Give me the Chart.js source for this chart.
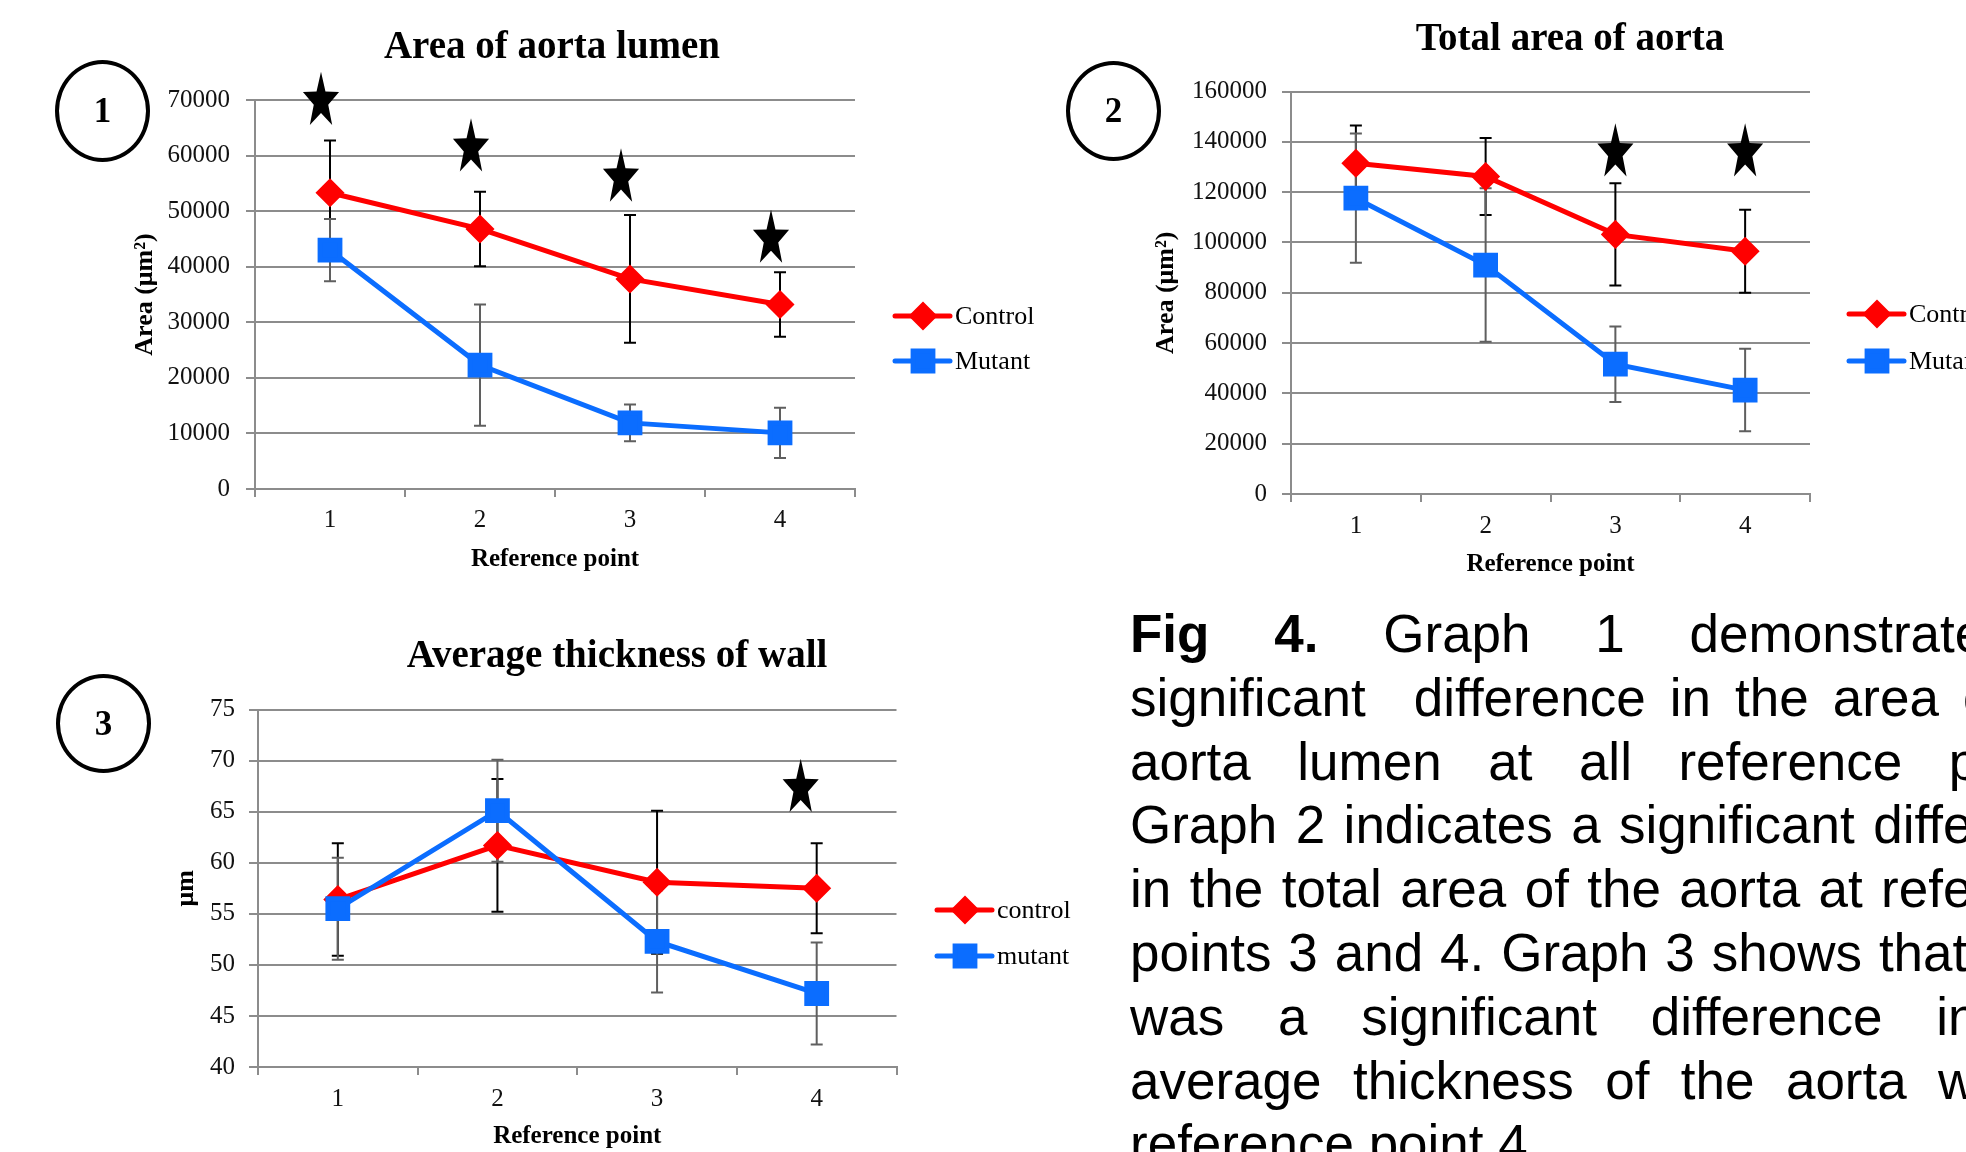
<!DOCTYPE html>
<html>
<head>
<meta charset="utf-8">
<script src="https://cdn.jsdelivr.net/npm/chart.js@4.4.1/dist/chart.umd.min.js"></script>
<style>
  html, body { margin:0; padding:0; background:#fff; }
  body { width:1966px; height:1152px; overflow:hidden; position:relative; }
  canvas { position:absolute; }
  .circ { position:absolute; border:4px solid #000; border-radius:50%; box-sizing:border-box;
          display:flex; align-items:center; justify-content:center;
          font:bold 35px "Liberation Serif", "Times New Roman", serif; color:#000; }
  .cap { position:absolute; left:1130px; top:602px; font:53px "Liberation Sans", Arial, sans-serif; color:#000; }
  .cap div { width:975px; height:63.8px; line-height:63.8px; text-align:justify; text-align-last:justify; overflow:hidden; }
  .cap div.last { text-align:left; text-align-last:left; }
</style>
</head>
<body>
<canvas id="c1" width="1040" height="600" style="left:0;top:0;width:1040px;height:600px"></canvas>
<canvas id="c2" width="926" height="600" style="left:1040px;top:0;width:926px;height:600px"></canvas>
<canvas id="c3" width="1100" height="552" style="left:0;top:600px;width:1100px;height:552px"></canvas>

<div class="circ" style="left:55px;top:60px;width:95px;height:102px">1</div>
<div class="circ" style="left:1066px;top:61px;width:95px;height:100px">2</div>
<div class="circ" style="left:56px;top:674px;width:95px;height:99px">3</div>

<div class="cap">
  <div><b>Fig 4.</b> Graph 1 demonstrates a</div>
  <div>significant&nbsp; difference in the area of the</div>
  <div>aorta lumen at all reference points.</div>
  <div>Graph 2 indicates a significant difference</div>
  <div>in the total area of the aorta at reference</div>
  <div>points 3 and 4. Graph 3 shows that there</div>
  <div>was a significant difference in the</div>
  <div>average thickness of the aorta wall at</div>
  <div class="last">reference point 4.</div>
</div>

<script>
// ---------------- data ----------------
const categories = ['1', '2', '3', '4'];

// Graph 1: Area of aorta lumen
const lumenControl    = [53300, 46800, 37800, 33200];
const lumenControlErr = [9400, 6700, 11500, 5800];
const lumenMutant     = [43000, 22300, 11900, 10100];
const lumenMutantErr  = [5600, 10900, 3300, 4500];
const lumenStars      = [69800, 61400, 56000, 45000];
const lumenTicks      = [0, 10000, 20000, 30000, 40000, 50000, 60000, 70000];

// Graph 2: Total area of aorta
const totalControl    = [131500, 126200, 103200, 96500];
const totalControlErr = [15000, 15300, 20300, 16500];
const totalMutant     = [117600, 91000, 51600, 41300];
const totalMutantErr  = [25700, 30500, 15000, 16400];
const totalStars      = [null, null, 135700, 135700];
const totalTicks      = [0, 20000, 40000, 60000, 80000, 100000, 120000, 140000, 160000];

// Graph 3: Average thickness of wall
const wallControl     = [56.4, 61.7, 58.1, 57.5];
const wallControlErr  = [5.5, 6.5, 7.0, 4.4];
const wallMutant      = [55.5, 65.1, 52.3, 47.2];
const wallMutantErr   = [5.0, 5.0, 5.0, 5.0];
const wallStars       = [null, null, null, 67.3];
const wallTicks       = [40, 45, 50, 55, 60, 65, 70, 75];

// ---------------- styling ----------------
const SERIF = '"Liberation Serif", "Times New Roman", serif';
const RED = '#ff0000';
const BLUE = '#0b6dff';
const GRID = '#8c8c8c';

function drawStar(ctx, cx, cy, R, sy) {
  ctx.beginPath();
  for (let k = 0; k < 10; k++) {
    const r = (k % 2 === 0) ? R : R * 0.4;
    const a = -Math.PI / 2 + k * Math.PI / 5;
    const px = cx + r * Math.cos(a);
    const py = cy + r * Math.sin(a) * sy;
    if (k === 0) ctx.moveTo(px, py); else ctx.lineTo(px, py);
  }
  ctx.closePath();
  ctx.fill();
}

const extras = {
  id: 'extras',
  beforeDatasetsDraw(chart, args, o) {
    const ctx = chart.ctx, xs = chart.scales.x, ys = chart.scales.y;
    chart.data.datasets.forEach((ds, i) => {
      const errs = o.errors[i];
      ctx.save();
      ctx.strokeStyle = o.errColors[i];
      ctx.lineWidth = 2;
      ds.data.forEach((v, j) => {
        const e = errs[j];
        const px = xs.getPixelForValue(j);
        const top = ys.getPixelForValue(v + e);
        const bot = ys.getPixelForValue(v - e);
        ctx.beginPath();
        ctx.moveTo(px, top); ctx.lineTo(px, bot);
        ctx.moveTo(px - 6, top); ctx.lineTo(px + 6, top);
        ctx.moveTo(px - 6, bot); ctx.lineTo(px + 6, bot);
        ctx.stroke();
      });
      ctx.restore();
    });
  },
  afterDatasetsDraw(chart, args, o) {
    const ctx = chart.ctx, xs = chart.scales.x, ys = chart.scales.y;
    ctx.save();
    ctx.fillStyle = '#000';
    o.stars.forEach((v, j) => {
      if (v === null) return;
      drawStar(ctx, xs.getPixelForValue(j) + o.starDx, ys.getPixelForValue(v), 19, 1.55);
    });
    ctx.restore();
  },
  afterDraw(chart, args, o) {
    const ctx = chart.ctx;
    ctx.save();
    // title
    ctx.fillStyle = '#000';
    ctx.font = 'bold 39px ' + SERIF;
    ctx.textAlign = 'center';
    ctx.textBaseline = 'alphabetic';
    ctx.fillText(o.title.text, o.title.x, o.title.y);
    // legend
    chart.data.datasets.forEach((ds, i) => {
      const y = o.legend.y + i * o.legend.gap;
      const x = o.legend.x;
      ctx.strokeStyle = ds.borderColor;
      ctx.lineWidth = 5;
      ctx.lineCap = 'round';
      ctx.beginPath(); ctx.moveTo(x, y); ctx.lineTo(x + 55, y); ctx.stroke();
      ctx.fillStyle = ds.borderColor;
      ctx.strokeStyle = ds.borderColor;
      Chart.helpers.drawPoint(ctx, { pointStyle: ds.pointStyle, radius: ds.pointRadius, rotation: 0, borderWidth: 1 }, x + 28, y);
      ctx.fillStyle = '#000';
      ctx.font = '26px ' + SERIF;
      ctx.textAlign = 'left';
      ctx.textBaseline = 'middle';
      ctx.fillText(ds.label, x + 60, y + 1);
    });
    ctx.restore();
  }
};

function makeChart(id, cfg) {
  const ticksArr = cfg.ticks;
  return new Chart(document.getElementById(id), {
    type: 'line',
    data: {
      labels: categories,
      datasets: [
        { label: cfg.labels[0], data: cfg.control, borderColor: RED, backgroundColor: RED,
          pointBackgroundColor: RED, pointBorderColor: RED, pointStyle: 'rectRot', pointRadius: 11,
          borderWidth: 5, tension: 0, order: 2 },
        { label: cfg.labels[1], data: cfg.mutant, borderColor: BLUE, backgroundColor: BLUE,
          pointBackgroundColor: BLUE, pointBorderColor: BLUE, pointStyle: 'rect', pointRadius: 14,
          borderWidth: 5, tension: 0, order: 1 }
      ]
    },
    options: {
      responsive: false,
      animation: false,
      devicePixelRatio: 1,
      events: [],
      layout: { padding: cfg.padding },
      plugins: {
        legend: { display: false },
        title: { display: false },
        tooltip: { enabled: false },
        extras: {
          errors: [cfg.controlErr, cfg.mutantErr],
          errColors: ['#000000', '#5f5f5f'],
          stars: cfg.stars,
          starDx: cfg.starDx,
          title: cfg.title,
          legend: cfg.legend
        }
      },
      scales: {
        x: {
          type: 'category',
          offset: true,
          grid: { display: true, offset: true, drawOnChartArea: false, drawTicks: true,
                  tickLength: 8, color: GRID, lineWidth: 2 },
          border: { display: true, color: GRID, width: 2 },
          ticks: { color: '#111', font: { family: SERIF, size: 25 }, padding: cfg.xTickPad, maxRotation: 0 },
          title: { display: true, text: 'Reference point', color: '#000',
                   font: { family: SERIF, size: 25, weight: 'bold' },
                   padding: { top: 0, bottom: cfg.xTitlePad } },
          afterFit: s => { s.height = cfg.xHeight; }
        },
        y: {
          min: ticksArr[0], max: ticksArr[ticksArr.length - 1],
          afterBuildTicks: s => { s.ticks = ticksArr.map(v => ({ value: v })); },
          grid: { color: GRID, lineWidth: 2, tickLength: 9, drawTicks: true },
          border: { display: true, color: GRID, width: 2 },
          ticks: { color: '#111', font: { family: SERIF, size: 25 }, padding: cfg.yTickPad,
                   callback: v => String(v) },
          title: { display: true, text: cfg.yTitle, color: '#000',
                   font: { family: SERIF, size: 26, weight: 'bold' },
                   padding: { top: cfg.yTitlePad, bottom: 0 } },
          afterFit: s => { s.width = cfg.yWidth; }
        }
      }
    },
    plugins: [extras]
  });
}

makeChart('c1', {
  labels: ['Control', 'Mutant'],
  control: lumenControl, controlErr: lumenControlErr,
  mutant: lumenMutant, mutantErr: lumenMutantErr,
  stars: lumenStars, starDx: -9, ticks: lumenTicks,
  yTitle: 'Area (μm²)',
  padding: { left: 0, top: 100, right: 185, bottom: 0 },
  yWidth: 255, xHeight: 111,
  yTickPad: 16, yTitlePad: 130, xTickPad: 8, xTitlePad: 25,
  title: { text: 'Area of aorta lumen', x: 552, y: 58 },
  legend: { x: 895, y: 316, gap: 45 }
});

makeChart('c2', {
  labels: ['Control', 'Mutant'],
  control: totalControl, controlErr: totalControlErr,
  mutant: totalMutant, mutantErr: totalMutantErr,
  stars: totalStars, starDx: 0, ticks: totalTicks,
  yTitle: 'Area (μm²)',
  padding: { left: 0, top: 91.5, right: 156, bottom: 0 },
  yWidth: 251, xHeight: 106,
  yTickPad: 15, yTitlePad: 111, xTickPad: 9, xTitlePad: 20,
  title: { text: 'Total area of aorta', x: 530, y: 50 },
  legend: { x: 809, y: 314, gap: 47 }
});

makeChart('c3', {
  labels: ['control', 'mutant'],
  control: wallControl, controlErr: wallControlErr,
  mutant: wallMutant, mutantErr: wallMutantErr,
  stars: wallStars, starDx: -16, ticks: wallTicks,
  yTitle: 'μm',
  padding: { left: 0, top: 109.6, right: 203.5, bottom: 0 },
  yWidth: 258, xHeight: 85,
  yTickPad: 14, yTitlePad: 171, xTickPad: 9, xTitlePad: 0,
  title: { text: 'Average thickness of wall', x: 617, y: 67 },
  legend: { x: 937, y: 310, gap: 46 }
});
</script>
</body>
</html>
